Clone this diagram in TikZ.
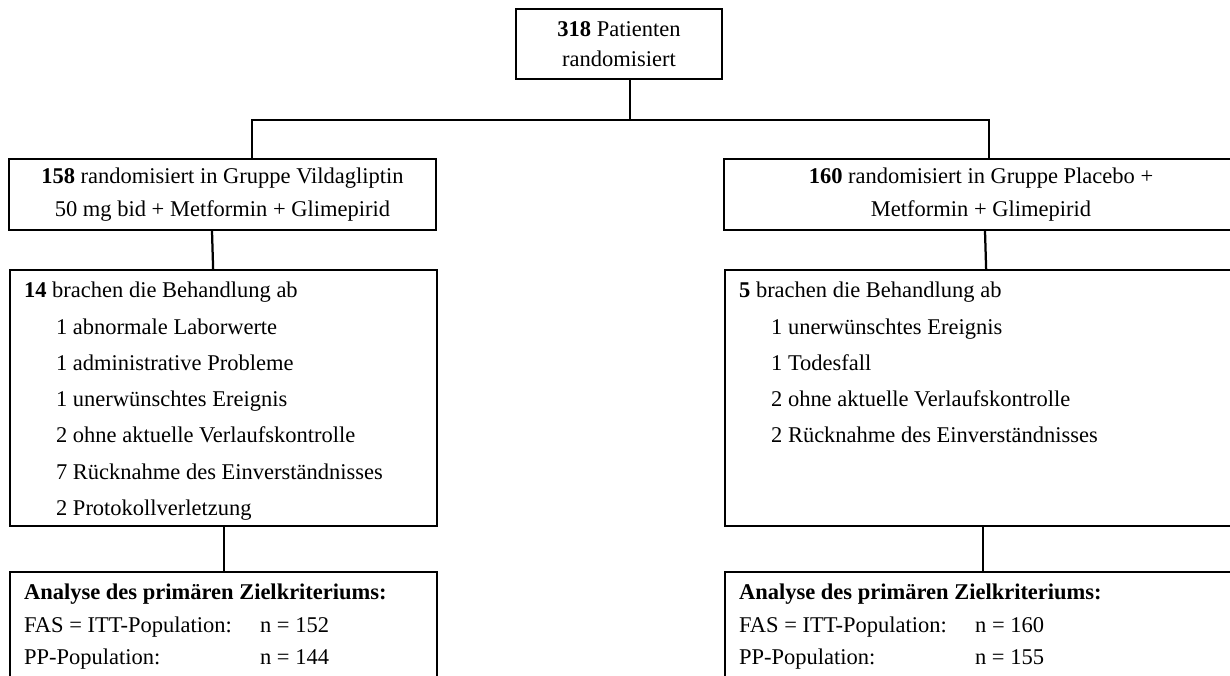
\documentclass[tikz,border=0pt]{standalone}
\usepackage{fontspec}
\setmainfont{Liberation Serif}
\usetikzlibrary{positioning,calc}

\begin{document}
\begin{tikzpicture}[
  box/.style={draw, line width=1.6pt, align=center, inner sep=0pt},
  topbox/.style={box, minimum width=5.15cm, minimum height=1.75cm,
                 font=\fontsize{16}{21.5}\selectfont},
  armbox/.style={box, minimum height=1.775cm, font=\fontsize{16}{23.5}\selectfont},
  listbox/.style={draw, line width=1.6pt, anchor=north west, align=left,
                  inner xsep=0.35cm, inner ysep=0.3cm, font=\fontsize{16}{25.8}\selectfont},
  resbox/.style={listbox, font=\fontsize{16}{23}\selectfont},
  link/.style={line width=1.6pt},
]

% --- page frame (boxes run off the right and bottom edge) ---
\clip (0,0) rectangle (30.75,-16.875);

% --- Randomisation ---
\node[topbox] (rand) at (15.475,-1.1) {\textbf{318} Patienten\\randomisiert};

% --- Treatment arms ---
\node[armbox, minimum width=10.675cm] (vilda) at (5.5625,-4.8625)
  {\textbf{158} randomisiert in Gruppe Vildagliptin\\50 mg bid + Metformin + Glimepirid};
\node[armbox, minimum width=12.85cm] (plac) at (24.525,-4.8625)
  {\textbf{160} randomisiert in Gruppe Placebo +\\Metformin + Glimepirid};

% --- Discontinuations ---
\node[listbox] (dropv) at (0.225,-6.725) {\parbox[t][5.8cm][t]{9.975cm}{%
  \textbf{14} brachen die Behandlung ab\\
  \hspace*{0.8cm}1 abnormale Laborwerte\\
  \hspace*{0.8cm}1 administrative Probleme\\
  \hspace*{0.8cm}1 unerwünschtes Ereignis\\
  \hspace*{0.8cm}2 ohne aktuelle Verlaufskontrolle\\
  \hspace*{0.8cm}7 Rücknahme des Einverständnisses\\
  \hspace*{0.8cm}2 Protokollverletzung}};
\node[listbox] (dropp) at (18.1,-6.725) {\parbox[t][5.8cm][t]{12.15cm}{%
  \textbf{5} brachen die Behandlung ab\\
  \hspace*{0.8cm}1 unerwünschtes Ereignis\\
  \hspace*{0.8cm}1 Todesfall\\
  \hspace*{0.8cm}2 ohne aktuelle Verlaufskontrolle\\
  \hspace*{0.8cm}2 Rücknahme des Einverständnisses}};

% --- Primary analysis ---
\node[resbox] (resv) at (0.225,-14.275) {\parbox[t][3cm][t]{9.975cm}{%
  \textbf{Analyse des primären Zielkriteriums:}\\
  \makebox[5.9cm][l]{FAS = ITT-Population:}n = 152\\
  \makebox[5.9cm][l]{PP-Population:}n = 144}};
\node[resbox] (resp) at (18.1,-14.275) {\parbox[t][3cm][t]{12.15cm}{%
  \textbf{Analyse des primären Zielkriteriums:}\\
  \makebox[5.9cm][l]{FAS = ITT-Population:}n = 160\\
  \makebox[5.9cm][l]{PP-Population:}n = 155}};

% --- Connectors ---
\draw[link] ([xshift=0.275cm]rand.south) -- ++(0,-1) coordinate (fork);
\draw[link] ([xshift=0.7375cm]vilda.north) |- (fork) -| ([xshift=0.2cm]plac.north);
\draw[link] ([xshift=-0.2625cm]vilda.south) -- ([xshift=-0.2625cm]dropv.north);
\draw[link] ([xshift=0.1cm]plac.south) -- ([xshift=0.1cm]dropp.north);
\draw[link] (dropv.south) -- (resv.north);
\draw[link] ([xshift=0.025cm]dropp.south) -- ([xshift=0.025cm]resp.north);

\end{tikzpicture}
\end{document}
